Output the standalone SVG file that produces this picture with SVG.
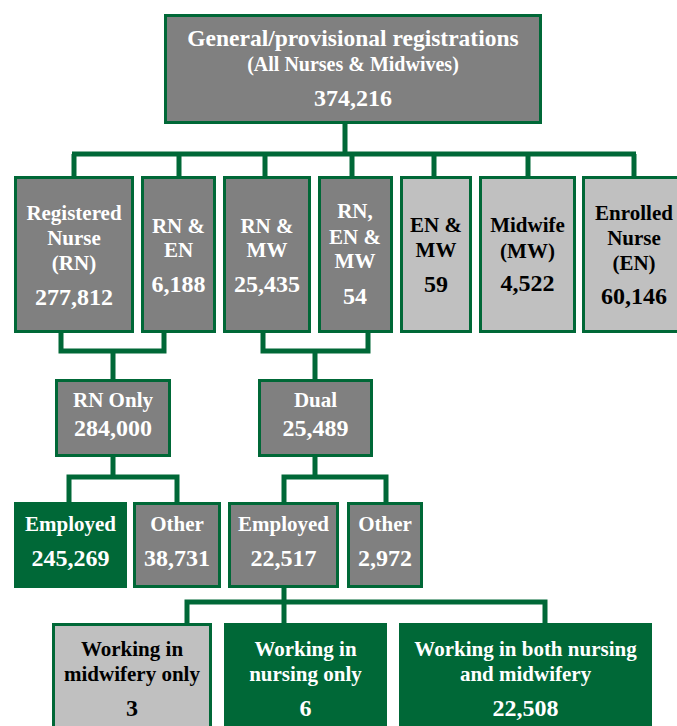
<svg xmlns="http://www.w3.org/2000/svg" width="677" height="726" viewBox="0 0 677 726">
<style>
.box{stroke:#006837;stroke-width:3}
.g{fill:#808080}
.l{fill:#C0C0C0}
.d{fill:#006837}
text{font-family:"Liberation Serif","Times New Roman",serif;font-weight:bold;text-anchor:middle}
.w{fill:#FFFFFF}
.k{fill:#000000}
.t{font-size:21px}
.n{font-size:24px}
.conn{fill:none;stroke:#006837;stroke-width:5;stroke-linejoin:miter}
</style>
<rect width="677" height="726" fill="#FFFFFF"/>
<g id="connectors">
<path class="conn" d="M345,124 V154 M72,154 H636 M74,154 V177 M179,154 V177 M265,154 V177 M352,154 V177 M434,154 V177 M528,154 V177 M634,154 V177"/>
<path class="conn" d="M61,333 V351 H164 V333 M113,351 V379"/>
<path class="conn" d="M263,333 V351 H368 V333 M315,351 V379"/>
<path class="conn" d="M113,457 V477 M69,502 V477 H177 V502"/>
<path class="conn" d="M315,457 V477 M284,502 V477 H386 V502"/>
<path class="conn" d="M284,588 V602 M187,624 V602 H545 V624 M284,602 V624"/>
</g>
<g id="top">
<rect class="box g" x="165.5" y="15.5" width="375" height="107"/>
<text class="w" x="353" y="46" style="font-size:23.5px">General/provisional registrations</text>
<text class="w" x="353" y="71" style="font-size:20px">(All Nurses &amp; Midwives)</text>
<text class="w n" x="353" y="106">374,216</text>
</g>
<g id="rn">
<rect class="box g" x="15.5" y="177.5" width="117" height="154"/>
<text class="w t" x="74" y="220">Registered</text>
<text class="w t" x="74" y="245">Nurse</text>
<text class="w t" x="74" y="270">(RN)</text>
<text class="w n" x="74" y="305">277,812</text>
</g>
<g id="rn-en">
<rect class="box g" x="142.5" y="177.5" width="72" height="154"/>
<text class="w t" x="178.5" y="233">RN &amp;</text>
<text class="w t" x="178.5" y="257">EN</text>
<text class="w n" x="178.5" y="292">6,188</text>
</g>
<g id="rn-mw">
<rect class="box g" x="224.5" y="177.5" width="85" height="154"/>
<text class="w t" x="267" y="233">RN &amp;</text>
<text class="w t" x="267" y="257">MW</text>
<text class="w n" x="267" y="292">25,435</text>
</g>
<g id="rn-en-mw">
<rect class="box g" x="319.5" y="177.5" width="72" height="154"/>
<text class="w t" x="355" y="218">RN,</text>
<text class="w t" x="355" y="244">EN &amp;</text>
<text class="w t" x="355" y="268">MW</text>
<text class="w n" x="355" y="304">54</text>
</g>
<g id="en-mw">
<rect class="box l" x="401.5" y="177.5" width="69" height="154"/>
<text class="k t" x="436" y="232">EN &amp;</text>
<text class="k t" x="436" y="257">MW</text>
<text class="k n" x="436" y="292">59</text>
</g>
<g id="mw">
<rect class="box l" x="480.5" y="177.5" width="94" height="154"/>
<text class="k t" x="527.5" y="232">Midwife</text>
<text class="k t" x="527.5" y="258">(MW)</text>
<text class="k n" x="527.5" y="291">4,522</text>
</g>
<g id="en">
<rect class="box l" x="583.5" y="177.5" width="101" height="154"/>
<text class="k t" x="634" y="220">Enrolled</text>
<text class="k t" x="634" y="245">Nurse</text>
<text class="k t" x="634" y="270">(EN)</text>
<text class="k n" x="634" y="304">60,146</text>
</g>
<g id="rn-only">
<rect class="box g" x="56.5" y="380.5" width="113" height="75"/>
<text class="w t" x="113" y="407">RN Only</text>
<text class="w n" x="113" y="436">284,000</text>
</g>
<g id="dual">
<rect class="box g" x="259.5" y="380.5" width="112" height="75"/>
<text class="w t" x="315.5" y="407">Dual</text>
<text class="w n" x="315.5" y="436">25,489</text>
</g>
<g id="rn-employed">
<rect class="box d" x="15.5" y="503.5" width="110" height="83"/>
<text class="w t" x="70.5" y="531">Employed</text>
<text class="w n" x="70.5" y="566">245,269</text>
</g>
<g id="rn-other">
<rect class="box g" x="134.5" y="503.5" width="85" height="83"/>
<text class="w t" x="177" y="531">Other</text>
<text class="w n" x="177" y="566">38,731</text>
</g>
<g id="dual-employed">
<rect class="box g" x="229.5" y="503.5" width="108" height="83"/>
<text class="w t" x="283.5" y="531">Employed</text>
<text class="w n" x="283.5" y="566">22,517</text>
</g>
<g id="dual-other">
<rect class="box g" x="348.5" y="503.5" width="73" height="83"/>
<text class="w t" x="385" y="531">Other</text>
<text class="w n" x="385" y="566">2,972</text>
</g>
<g id="midwifery-only">
<rect class="box l" x="53.5" y="624.5" width="157" height="110"/>
<text class="k t" x="132" y="656">Working in</text>
<text class="k t" x="132" y="681">midwifery only</text>
<text class="k n" x="132" y="716">3</text>
</g>
<g id="nursing-only">
<rect class="box d" x="225.5" y="624.5" width="160" height="110"/>
<text class="w t" x="305.5" y="656">Working in</text>
<text class="w t" x="305.5" y="681">nursing only</text>
<text class="w n" x="305.5" y="716">6</text>
</g>
<g id="both">
<rect class="box d" x="400.5" y="624.5" width="250" height="110"/>
<text class="w t" x="525.5" y="656">Working in both nursing</text>
<text class="w t" x="525.5" y="681">and midwifery</text>
<text class="w n" x="525.5" y="716">22,508</text>
</g>
</svg>
